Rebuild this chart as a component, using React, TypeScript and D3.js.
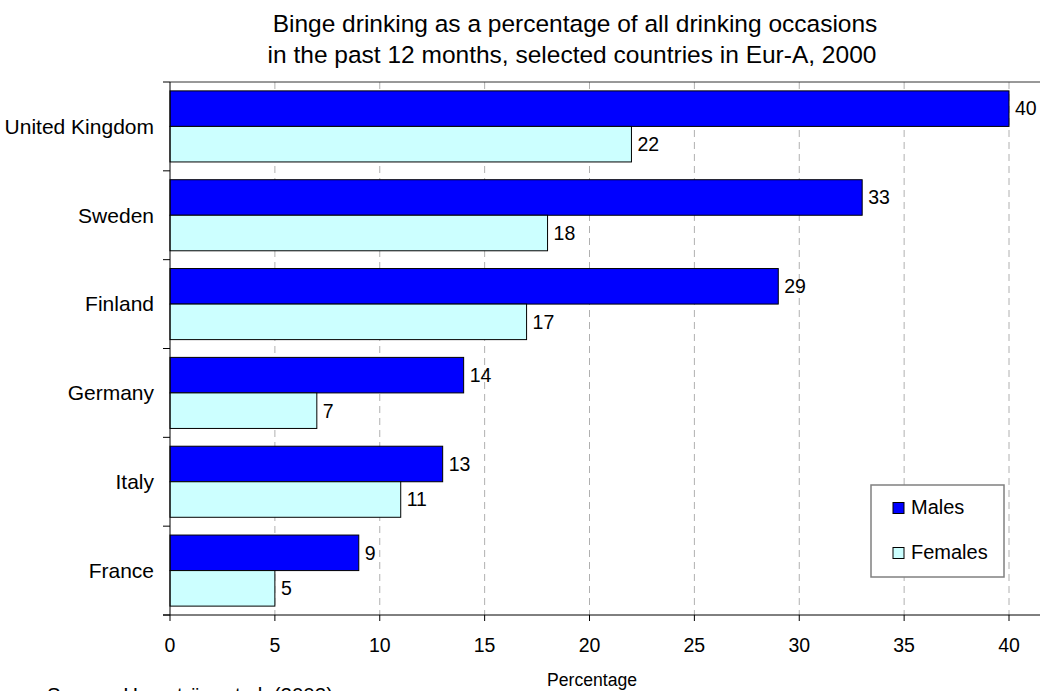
import React from "react";
import * as d3 from "d3";

const countries = ["United Kingdom", "Sweden", "Finland", "Germany", "Italy", "France"];
const males = [40, 33, 29, 14, 13, 9];
const females = [22, 18, 17, 7, 11, 5];
const xTicks = [0, 5, 10, 15, 20, 25, 30, 35, 40];
const seriesNames = ["Males", "Females"];
const seriesColors = ["#0000FF", "#CCFFFF"];

const W = 1040;
const H = 691;
const left = 170;
const top = 82;
const bottom = 615;
const font = "Arial, 'Liberation Sans', sans-serif";

const App = () => {
  const x = d3.scaleLinear().domain([0, 40]).range([left, 1009]);
  const y = d3.scaleBand<string>().domain(countries).range([top, bottom]);
  // two bars per country, with a gap above and below the pair
  const inner = d3
    .scaleBand<string>()
    .domain(seriesNames)
    .range([0, y.bandwidth()])
    .paddingInner(0)
    .paddingOuter(0.25);

  const bars = countries.flatMap((c, i) => [
    { c, s: "Males", v: males[i], color: seriesColors[0] },
    { c, s: "Females", v: females[i], color: seriesColors[1] },
  ]);

  const bounds = d3.range(countries.length + 1).map((i) => top + i * y.step());

  return (
    <svg width={W} height={H} style={{ position: "absolute", left: 0, top: 0 }} fontFamily={font}>
      <rect width={W} height={H} fill="#fff" />
      {/* title */}
      <text x={575} y={32} textAnchor="middle" fontSize={24.5}>
        Binge drinking as a percentage of all drinking occasions
      </text>
      <text x={572} y={63} textAnchor="middle" fontSize={24.5}>
        in the past 12 months, selected countries in Eur-A, 2000
      </text>

      {/* grid */}
      {xTicks.slice(1).map((t) => (
        <line key={t} x1={x(t)} x2={x(t)} y1={top} y2={bottom} stroke="#b0b0b0" strokeDasharray="7,5" />
      ))}
      <line x1={left} x2={W} y1={top} y2={top} stroke="#333" />

      {/* bars */}
      {bars.map((b) => (
        <rect
          key={b.c + b.s}
          x={x(0)}
          y={(y(b.c) ?? 0) + (inner(b.s) ?? 0)}
          width={x(b.v) - x(0)}
          height={inner.bandwidth()}
          fill={b.color}
          stroke="#000"
          strokeWidth={1}
        />
      ))}
      {bars.map((b) => (
        <text
          key={"l" + b.c + b.s}
          x={x(b.v) + 6}
          y={(y(b.c) ?? 0) + (inner(b.s) ?? 0) + inner.bandwidth() / 2}
          dy="0.35em"
          fontSize={19.5}
        >
          {b.v}
        </text>
      ))}

      {/* y axis */}
      <line x1={left} x2={left} y1={top} y2={bottom} stroke="#000" />
      {bounds.map((b) => (
        <line key={b} x1={left - 7} x2={left} y1={b} y2={b} stroke="#000" />
      ))}
      {countries.map((c) => (
        <text key={c} x={154} y={(y(c) ?? 0) + y.bandwidth() / 2} dy="0.35em" textAnchor="end" fontSize={21}>
          {c}
        </text>
      ))}

      {/* x axis */}
      <line x1={left - 7} x2={W} y1={bottom} y2={bottom} stroke="#000" />
      {xTicks.map((t) => (
        <g key={t}>
          <line x1={x(t)} x2={x(t)} y1={bottom} y2={bottom + 6} stroke="#000" />
          <text x={x(t)} y={652} textAnchor="middle" fontSize={19.5}>
            {t}
          </text>
        </g>
      ))}
      <text x={592} y={686} textAnchor="middle" fontSize={17.6}>
        Percentage
      </text>
      <text x={47} y={702} fontSize={20.5}>
        Source: Hemström et al. (2002)
      </text>

      {/* legend */}
      <rect x={871} y={485} width={133} height={92} fill="#fff" stroke="#808080" strokeWidth={1.5} />
      {seriesNames.map((s, i) => (
        <g key={s} transform={`translate(893,${508 + i * 45})`}>
          <rect x={0} y={-5.5} width={11} height={11} fill={seriesColors[i]} stroke="#000" />
          <text x={18} y={-1} dy="0.35em" fontSize={20}>
            {s}
          </text>
        </g>
      ))}
    </svg>
  );
};

export default App;
